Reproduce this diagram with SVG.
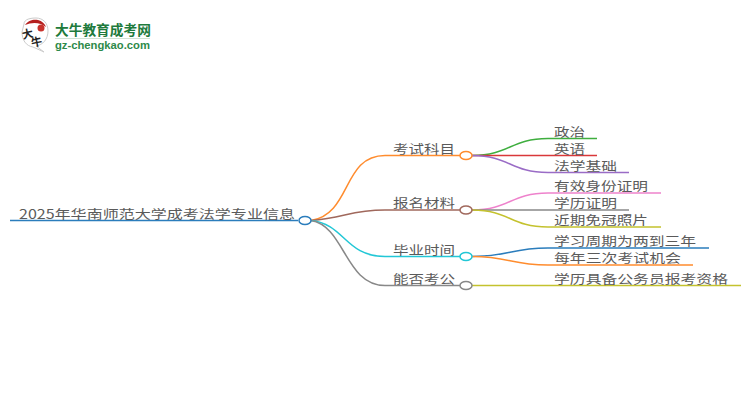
<svg xmlns="http://www.w3.org/2000/svg" width="750" height="410" viewBox="0 0 750 410">
<style>
.t{font-family:"Noto Sans CJK SC","Liberation Sans",sans-serif;fill:#5a5a5a;font-size:12.500px}
.c{fill:none;stroke-width:1.500}
.n{fill:#fff;stroke-width:1.500}
</style>
<rect width="750" height="410" fill="#fff"/>
<g id="logo">
<path d="M24 24C24 19 31 18 36 18C43 18 48 23 48 31C48 39 43 45 36 46L44 52L33 47C26 46 22 40 22 32Z" fill="#fff" stroke="#ccc" stroke-width="1"/>
<path d="M25 25C28 20 34 19 38 20C42 21 45 24 46 27C40 22 32 22 25 25Z" fill="#b5201f"/>
<circle cx="41" cy="28" r="3.500" fill="#c8322c"/>
<text x="22" y="38" font-family="Noto Sans CJK SC,sans-serif" font-size="11" font-weight="700" fill="#222" transform="rotate(-12 27 34)">大</text>
<text x="31" y="46" font-family="Noto Sans CJK SC,sans-serif" font-size="11" font-weight="700" fill="#222" transform="rotate(-12 36 42)">牛</text>
<text x="55" y="35" font-family="Noto Sans CJK SC,sans-serif" font-size="13.700" font-weight="700" fill="#207a3c">大牛教育成考网</text>
<path d="M55 38.500H150" stroke="#cfe3d4" stroke-width="1"/>
<text x="55" y="49" font-family="Liberation Sans,sans-serif" font-size="11.500" font-weight="700" fill="#2e8a4a" textLength="95" lengthAdjust="spacingAndGlyphs">gz-chengkao.com</text>
</g>
<g id="connectors">
<path class="c" d="M10 220.500H298" stroke="#2b7dbc"/>
<path class="c" d="M311 220.500C352 214 342 155.500 385 155.500H460" stroke="#ff8c2e"/>
<path class="c" d="M311 220.500C345 218 350 210 385 210H460" stroke="#a0685c"/>
<path class="c" d="M311 220.500C345 224 345 256.500 385 256.500H460" stroke="#22c7d6"/>
<path class="c" d="M311 220.500C345 226 345 285.500 385 285.500H460" stroke="#888"/>
<path class="c" d="M472 155.500C510 155.500 510 138.500 548 138.500H597" stroke="#3fae3f"/>
<path class="c" d="M472 155.500H597" stroke="#d9383a"/>
<path class="c" d="M472 155.500C510 155.500 510 172.500 548 172.500H629" stroke="#9a6cc6"/>
<path class="c" d="M472 210C510 210 510 193 548 193H661" stroke="#ee82cc"/>
<path class="c" d="M472 210H629" stroke="#888"/>
<path class="c" d="M472 210C510 210 510 227 548 227H661" stroke="#c4c22e"/>
<path class="c" d="M472 256.500C510 256.500 510 248 548 248H709" stroke="#2b7dbc"/>
<path class="c" d="M472 256.500C510 256.500 510 265 548 265H693" stroke="#ff8c2e"/>
<path class="c" d="M472 285.500H741" stroke="#c4c22e"/>
</g>
<g id="root"><text class="t" x="19" y="218.500" textLength="276" lengthAdjust="spacingAndGlyphs">2025年华南师范大学成考法学专业信息</text><ellipse class="n" cx="305" cy="220.500" rx="6" ry="4" stroke="#2b7dbc"/></g>
<g id="n1"><text class="t" x="393" y="153.500" textLength="62" lengthAdjust="spacingAndGlyphs">考试科目</text><ellipse class="n" cx="466" cy="155.500" rx="6" ry="4" stroke="#ff8c2e"/></g>
<g id="n2"><text class="t" x="393" y="208" textLength="62" lengthAdjust="spacingAndGlyphs">报名材料</text><ellipse class="n" cx="466" cy="210" rx="6" ry="4" stroke="#a0685c"/></g>
<g id="n3"><text class="t" x="393" y="254.500" textLength="62" lengthAdjust="spacingAndGlyphs">毕业时间</text><ellipse class="n" cx="466" cy="256.500" rx="6" ry="4" stroke="#22c7d6"/></g>
<g id="n4"><text class="t" x="393" y="283.500" textLength="62" lengthAdjust="spacingAndGlyphs">能否考公</text><ellipse class="n" cx="466" cy="285.500" rx="6" ry="4" stroke="#888"/></g>
<g id="l1"><text class="t" x="554" y="136.500" textLength="31" lengthAdjust="spacingAndGlyphs">政治</text></g>
<g id="l2"><text class="t" x="554" y="153.500" textLength="31" lengthAdjust="spacingAndGlyphs">英语</text></g>
<g id="l3"><text class="t" x="554" y="170.500" textLength="63" lengthAdjust="spacingAndGlyphs">法学基础</text></g>
<g id="l4"><text class="t" x="554" y="191" textLength="94" lengthAdjust="spacingAndGlyphs">有效身份证明</text></g>
<g id="l5"><text class="t" x="554" y="208" textLength="63" lengthAdjust="spacingAndGlyphs">学历证明</text></g>
<g id="l6"><text class="t" x="554" y="225" textLength="94" lengthAdjust="spacingAndGlyphs">近期免冠照片</text></g>
<g id="l7"><text class="t" x="554" y="246" textLength="142" lengthAdjust="spacingAndGlyphs">学习周期为两到三年</text></g>
<g id="l8"><text class="t" x="554" y="263" textLength="127" lengthAdjust="spacingAndGlyphs">每年三次考试机会</text></g>
<g id="l9"><text class="t" x="554" y="283.500" textLength="174" lengthAdjust="spacingAndGlyphs">学历具备公务员报考资格</text></g>
</svg>
